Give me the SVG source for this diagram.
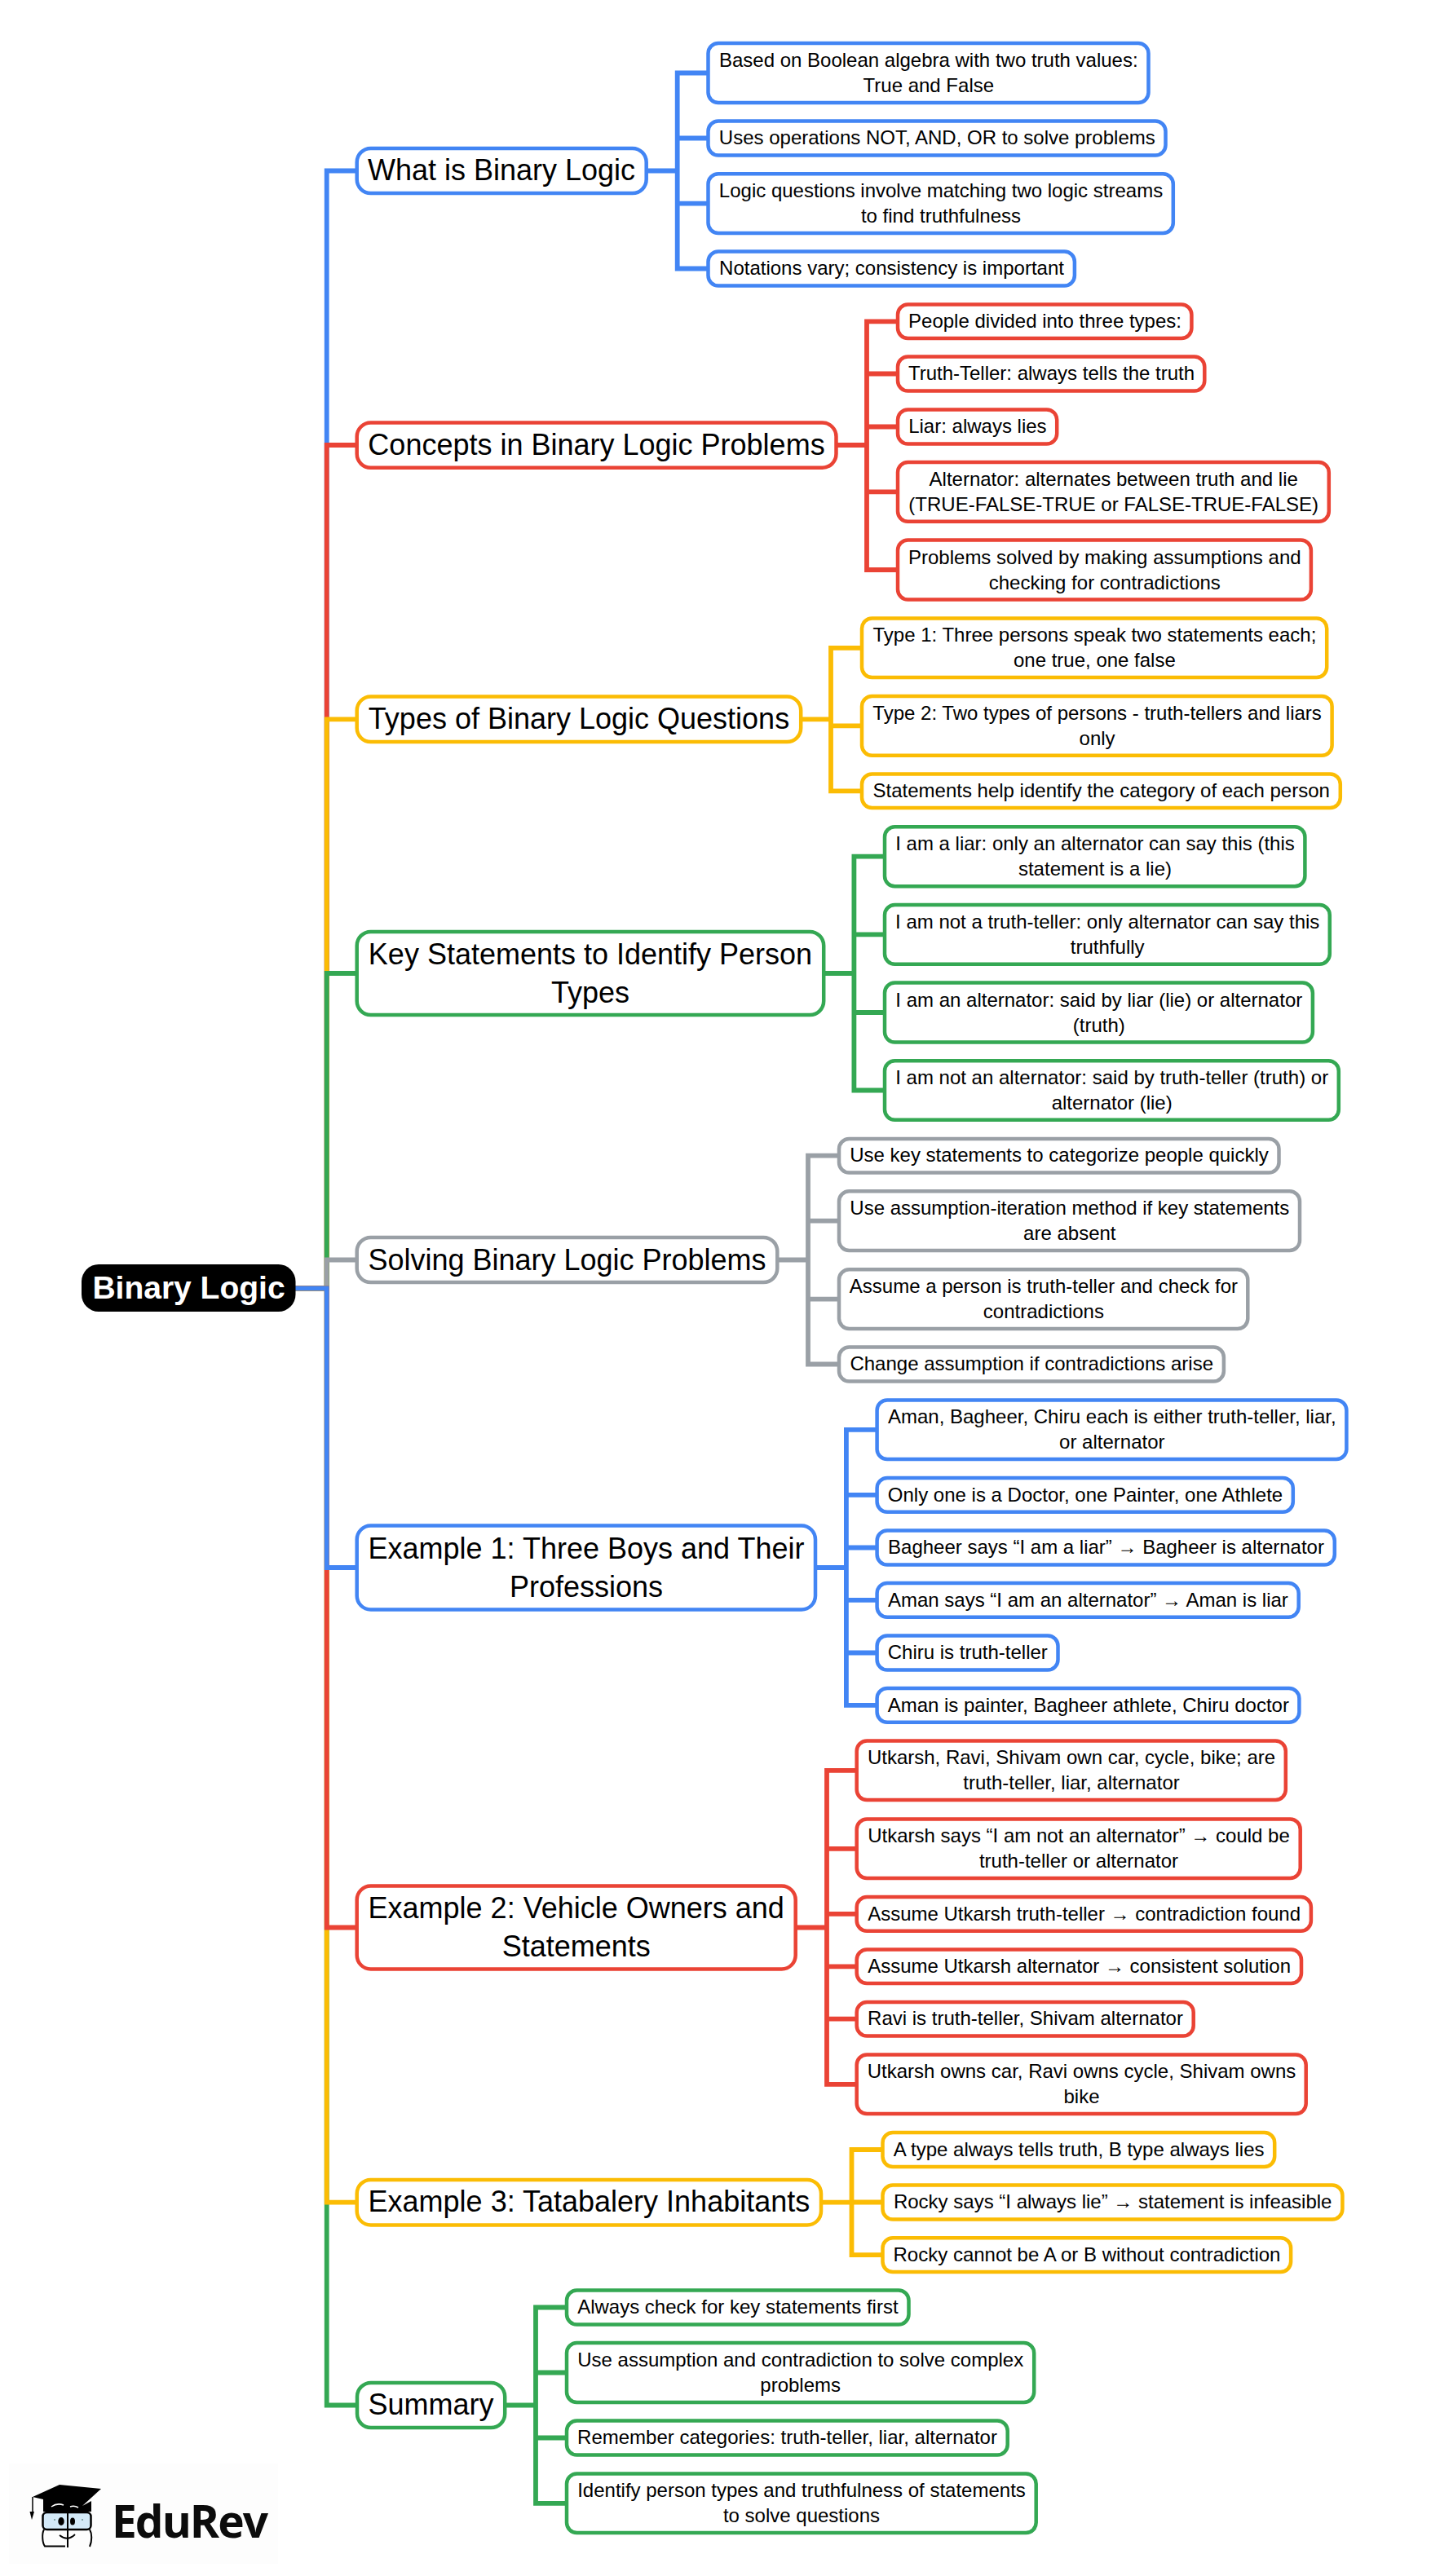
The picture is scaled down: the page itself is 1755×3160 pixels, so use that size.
<svg xmlns="http://www.w3.org/2000/svg" width="1755" height="3160" viewBox="0 0 1755 3160">
<style>
text{font-family:"Liberation Sans",Arial,sans-serif;fill:#000;text-anchor:middle}
.s{font-size:24px}
.m{font-size:36px}
.b{fill:#fff;stroke-width:4.5}
.sb{rx:12.5px;ry:12.5px}
.mb{rx:17px;ry:17px}
.c{fill:none;stroke-width:5.8;stroke-linejoin:miter}
.blue{stroke:#4285F4}.red{stroke:#EA4335}.yellow{stroke:#FBBC04}.green{stroke:#34A853}.gray{stroke:#9AA0A6}
</style>
<rect width="1755" height="3160" fill="#fff"/>
<g id="connectors">
<path class="c blue" d="M362 1580.3H400.7V209.5H438"/>
<path class="c red" d="M362 1580.3H400.7V546H438"/>
<path class="c yellow" d="M362 1580.3H400.7V882.3H438"/>
<path class="c green" d="M362 1580.3H400.7V1194H438"/>
<path class="c gray" d="M362 1580.3H400.7V1545.5H438"/>
<path class="c green" d="M362 1580.3H400.7V2950.5H438"/>
<path class="c yellow" d="M362 1580.3H400.7V2701.7H438"/>
<path class="c red" d="M362 1580.3H400.7V2364.5H438"/>
<path class="c blue" d="M362 1580.3H400.7V1923H438"/>
<path class="c blue" d="M793 209.5H830.7M869 89.5H830.7V329.5H869M830.7 169.5H869M830.7 249.7H869"/>
<path class="c red" d="M1025 546H1063M1102 394.3H1063V699H1102M1063 458.5H1102M1063 523.5H1102M1063 603.3H1102"/>
<path class="c yellow" d="M981 882.3H1019M1057 794.8H1019V970.3H1057M1019 890.3H1057"/>
<path class="c green" d="M1009 1194H1047.4M1086 1050.7H1047.4V1337.5H1086M1047.4 1146.3H1086M1047.4 1242H1086"/>
<path class="c gray" d="M952 1545.5H991M1029 1417.7H991V1673.5H1029M991 1497.7H1029M991 1593.7H1029"/>
<path class="c blue" d="M999 1923H1037.9M1076 1753.8H1037.9V2091.8H1076M1037.9 1833.8H1076M1037.9 1898.5H1076M1037.9 1962.8H1076M1037.9 2027.5H1076"/>
<path class="c red" d="M975 2364.5H1014M1051 2171.8H1014V2556.8H1051M1014 2267.8H1051M1014 2347.8H1051M1014 2412.3H1051M1014 2476.7H1051"/>
<path class="c yellow" d="M1006 2701.7H1044.5M1083 2637H1044.5V2766.2H1083M1044.5 2701.5H1083"/>
<path class="c green" d="M620 2950.5H657M695 2830.5H657V3070.8H695M657 2910.5H695M657 2990.5H695"/>
</g>
<g id="root"><rect x="100" y="1551" width="262.5" height="58" rx="21" fill="#000"/><text x="231.5" y="1592.5" style="font-size:39px;font-weight:700;fill:#fff">Binary Logic</text></g>

<g id="main-what"><rect class="b mb blue" x="437.7" y="181.9" width="355" height="55.2"/><text class="m" x="615" y="221.3">What is Binary Logic</text></g>
<g id="a1"><rect class="b sb blue" x="868.5" y="52.9" width="540" height="73.2"/><text class="s" x="1138.8" y="82">Based on Boolean algebra with two truth values:</text><text class="s" x="1138.8" y="113">True and False</text></g>
<g id="a2"><rect class="b sb blue" x="868.5" y="148.5" width="561" height="42"/><text class="s" x="1149.3" y="177.2">Uses operations NOT, AND, OR to solve problems</text></g>
<g id="a3"><rect class="b sb blue" x="868.5" y="213.2" width="570.3" height="72.9"/><text class="s" x="1154" y="242.2">Logic questions involve matching two logic streams</text><text class="s" x="1154" y="273.2">to find truthfulness</text></g>
<g id="a4"><rect class="b sb blue" x="868.5" y="308.5" width="449.4" height="42"/><text class="s" x="1093.5" y="337.2">Notations vary; consistency is important</text></g>

<g id="main-concepts"><rect class="b mb red" x="437.7" y="518.5" width="587.8" height="55.3"/><text class="m" x="731.5" y="557.8">Concepts in Binary Logic Problems</text></g>
<g id="b1"><rect class="b sb red" x="1101" y="373.5" width="360.4" height="41.6"/><text class="s" x="1281.5" y="402">People divided into three types:</text></g>
<g id="b2"><rect class="b sb red" x="1101" y="437.5" width="376.3" height="42"/><text class="s" x="1289.5" y="466.2">Truth-Teller: always tells the truth</text></g>
<g id="b3"><rect class="b sb red" x="1101" y="502.5" width="195.2" height="42"/><text class="s" x="1198.9" y="531.2">Liar: always lies</text></g>
<g id="b4"><rect class="b sb red" x="1101" y="566.9" width="528.8" height="72.9"/><text class="s" x="1365.7" y="595.8">Alternator: alternates between truth and lie</text><text class="s" x="1365.7" y="626.8">(TRUE-FALSE-TRUE or FALSE-TRUE-FALSE)</text></g>
<g id="b5"><rect class="b sb red" x="1101" y="662.5" width="506.9" height="73"/><text class="s" x="1354.8" y="691.5">Problems solved by making assumptions and</text><text class="s" x="1354.8" y="722.5">checking for contradictions</text></g>

<g id="main-types"><rect class="b mb yellow" x="437.7" y="854.5" width="544.5" height="55.6"/><text class="m" x="710" y="894">Types of Binary Logic Questions</text></g>
<g id="c1"><rect class="b sb yellow" x="1057" y="758.5" width="570.2" height="72.6"/><text class="s" x="1342.4" y="787.3">Type 1: Three persons speak two statements each;</text><text class="s" x="1342.4" y="818.3">one true, one false</text></g>
<g id="c2"><rect class="b sb yellow" x="1057" y="853.9" width="576.6" height="72.9"/><text class="s" x="1345.6" y="883">Type 2: Two types of persons - truth-tellers and liars</text><text class="s" x="1345.6" y="914">only</text></g>
<g id="c3"><rect class="b sb yellow" x="1057" y="949.5" width="586.8" height="41.6"/><text class="s" x="1350.7" y="978">Statements help identify the category of each person</text></g>

<g id="main-key"><rect class="b mb green" x="437.7" y="1142.9" width="572.5" height="102.2"/><text class="m" x="724" y="1182.7">Key Statements to Identify Person</text><text class="m" x="724" y="1229.5">Types</text></g>
<g id="d1"><rect class="b sb green" x="1085" y="1014.2" width="515.4" height="73"/><text class="s" x="1343" y="1043">I am a liar: only an alternator can say this (this</text><text class="s" x="1343" y="1074">statement is a lie)</text></g>
<g id="d2"><rect class="b sb green" x="1085" y="1109.9" width="545.8" height="72.9"/><text class="s" x="1358.2" y="1138.9">I am not a truth-teller: only alternator can say this</text><text class="s" x="1358.2" y="1169.9">truthfully</text></g>
<g id="d3"><rect class="b sb green" x="1085" y="1205.5" width="524.9" height="73"/><text class="s" x="1347.8" y="1234.5">I am an alternator: said by liar (lie) or alternator</text><text class="s" x="1347.8" y="1265.5">(truth)</text></g>
<g id="d4"><rect class="b sb green" x="1085" y="1301.2" width="556.8" height="72.6"/><text class="s" x="1363.7" y="1330">I am not an alternator: said by truth-teller (truth) or</text><text class="s" x="1363.7" y="1361">alternator (lie)</text></g>

<g id="main-solving"><rect class="b mb gray" x="437.7" y="1517.9" width="515.6" height="55.2"/><text class="m" x="695.5" y="1557.6">Solving Binary Logic Problems</text></g>
<g id="e1"><rect class="b sb gray" x="1029" y="1396.9" width="539.5" height="41.6"/><text class="s" x="1299" y="1425.4">Use key statements to categorize people quickly</text></g>
<g id="e2"><rect class="b sb gray" x="1029" y="1461.2" width="565" height="72.9"/><text class="s" x="1311.8" y="1490.2">Use assumption-iteration method if key statements</text><text class="s" x="1311.8" y="1521.2">are absent</text></g>
<g id="e3"><rect class="b sb gray" x="1029" y="1557.2" width="501.3" height="72.9"/><text class="s" x="1279.9" y="1586.2">Assume a person is truth-teller and check for</text><text class="s" x="1279.9" y="1617.2">contradictions</text></g>
<g id="e4"><rect class="b sb gray" x="1029" y="1652.5" width="471.9" height="42"/><text class="s" x="1265.2" y="1681.2">Change assumption if contradictions arise</text></g>

<g id="main-ex1"><rect class="b mb blue" x="437.7" y="1871.5" width="562.3" height="103"/><text class="m" x="719" y="1911.7">Example 1: Three Boys and Their</text><text class="m" x="719" y="1958.5">Professions</text></g>
<g id="f1"><rect class="b sb blue" x="1075.6" y="1717.5" width="575.8" height="72.6"/><text class="s" x="1363.8" y="1746.3">Aman, Bagheer, Chiru each is either truth-teller, liar,</text><text class="s" x="1363.8" y="1777.3">or alternator</text></g>
<g id="f2"><rect class="b sb blue" x="1075.6" y="1812.9" width="510.2" height="41.9"/><text class="s" x="1331" y="1841.5">Only one is a Doctor, one Painter, one Athlete</text></g>
<g id="f3"><rect class="b sb blue" x="1075.6" y="1877.5" width="561.2" height="42"/><text class="s" x="1356.5" y="1906.2">Bagheer says “I am a liar” → Bagheer is alternator</text></g>
<g id="f4"><rect class="b sb blue" x="1075.6" y="1941.9" width="517.1" height="41.9"/><text class="s" x="1334.4" y="1970.5">Aman says “I am an alternator” → Aman is liar</text></g>
<g id="f5"><rect class="b sb blue" x="1075.6" y="2006.5" width="221.9" height="42"/><text class="s" x="1186.8" y="2035.2">Chiru is truth-teller</text></g>
<g id="f6"><rect class="b sb blue" x="1075.6" y="2070.9" width="517.8" height="41.9"/><text class="s" x="1334.8" y="2099.5">Aman is painter, Bagheer athlete, Chiru doctor</text></g>

<g id="main-ex2"><rect class="b mb red" x="437.7" y="2313.5" width="538" height="102"/><text class="m" x="706.7" y="2353.2">Example 2: Vehicle Owners and</text><text class="m" x="706.7" y="2400">Statements</text></g>
<g id="g1"><rect class="b sb red" x="1050.7" y="2135.5" width="526.1" height="72.6"/><text class="s" x="1314" y="2164.3">Utkarsh, Ravi, Shivam own car, cycle, bike; are</text><text class="s" x="1314" y="2195.3">truth-teller, liar, alternator</text></g>
<g id="g2"><rect class="b sb red" x="1050.7" y="2231.5" width="544" height="72.6"/><text class="s" x="1323" y="2260.3">Utkarsh says “I am not an alternator” → could be</text><text class="s" x="1323" y="2291.3">truth-teller or alternator</text></g>
<g id="g3"><rect class="b sb red" x="1050.7" y="2326.9" width="557.2" height="41.9"/><text class="s" x="1329.6" y="2355.5">Assume Utkarsh truth-teller → contradiction found</text></g>
<g id="g4"><rect class="b sb red" x="1050.7" y="2391.5" width="545.3" height="41.6"/><text class="s" x="1323.6" y="2420">Assume Utkarsh alternator → consistent solution</text></g>
<g id="g5"><rect class="b sb red" x="1050.7" y="2455.9" width="413" height="41.6"/><text class="s" x="1257.5" y="2484.4">Ravi is truth-teller, Shivam alternator</text></g>
<g id="g6"><rect class="b sb red" x="1050.7" y="2520.5" width="551" height="72.6"/><text class="s" x="1326.5" y="2549.3">Utkarsh owns car, Ravi owns cycle, Shivam owns</text><text class="s" x="1326.5" y="2580.3">bike</text></g>

<g id="main-ex3"><rect class="b mb yellow" x="437.7" y="2673.9" width="569.3" height="55.6"/><text class="m" x="722.4" y="2713.4">Example 3: Tatabalery Inhabitants</text></g>
<g id="h1"><rect class="b sb yellow" x="1082.5" y="2615.9" width="480.7" height="42.2"/><text class="s" x="1323.1" y="2644.7">A type always tells truth, B type always lies</text></g>
<g id="h2"><rect class="b sb yellow" x="1082.5" y="2680.5" width="563.9" height="42"/><text class="s" x="1364.7" y="2709.2">Rocky says “I always lie” → statement is infeasible</text></g>
<g id="h3"><rect class="b sb yellow" x="1082.5" y="2745.2" width="500.6" height="41.9"/><text class="s" x="1333" y="2773.9">Rocky cannot be A or B without contradiction</text></g>

<g id="main-summary"><rect class="b mb green" x="438" y="2922.9" width="181.2" height="55.2"/><text class="m" x="528.6" y="2962.2">Summary</text></g>
<g id="i1"><rect class="b sb green" x="695" y="2809.5" width="419.5" height="42"/><text class="s" x="904.9" y="2838.2">Always check for key statements first</text></g>
<g id="i2"><rect class="b sb green" x="695" y="2873.9" width="573.2" height="73.2"/><text class="s" x="981.7" y="2903">Use assumption and contradiction to solve complex</text><text class="s" x="981.7" y="2934">problems</text></g>
<g id="i3"><rect class="b sb green" x="695" y="2969.5" width="540.7" height="42"/><text class="s" x="965.5" y="2998.2">Remember categories: truth-teller, liar, alternator</text></g>
<g id="i4"><rect class="b sb green" x="695" y="3034.5" width="575.7" height="72.6"/><text class="s" x="983" y="3063.3">Identify person types and truthfulness of statements</text><text class="s" x="983" y="3094.3">to solve questions</text></g>

<g id="logo">
<rect x="11" y="3022" width="330" height="123" fill="#fdfdfd"/>
<path d="M40 3063L73 3048L124 3053L101 3074L112 3068V3081H53V3066Z" fill="#000"/>
<path d="M40 3063V3081" stroke="#000" stroke-width="1.5" fill="none"/>
<path d="M36.5 3081H42L39 3091Z" fill="#000"/>
<rect x="52.5" y="3082" width="59" height="21" rx="5" fill="#d3e9f8" stroke="#000" stroke-width="2.5"/>
<path d="M54 3103C51 3108 52 3120 55 3123.5H80M110 3103C113 3108 113 3117 110 3124" fill="none" stroke="#000" stroke-width="2"/>
<path d="M83 3079V3125" stroke="#000" stroke-width="2" fill="none"/>
<ellipse cx="75" cy="3093" rx="3.7" ry="5" fill="#000"/><ellipse cx="89" cy="3093" rx="3" ry="4.5" fill="#000"/>
<path d="M66 3091h2M100 3091h2" stroke="#8aa" stroke-width="2"/>
<path d="M73 3110Q83 3118 92 3109" fill="none" stroke="#000" stroke-width="1.8"/>
<path d="M63 3075Q70 3070 78 3073M86 3075Q91 3073 96 3076" fill="none" stroke="#fff" stroke-width="1.5"/>
<text x="137" y="3113" textLength="192" lengthAdjust="spacing" style="font-family:'Open Sans',sans-serif;font-size:55px;font-weight:700;text-anchor:start;fill:#0c0c0c">EduRev</text>
</g>
</svg>
